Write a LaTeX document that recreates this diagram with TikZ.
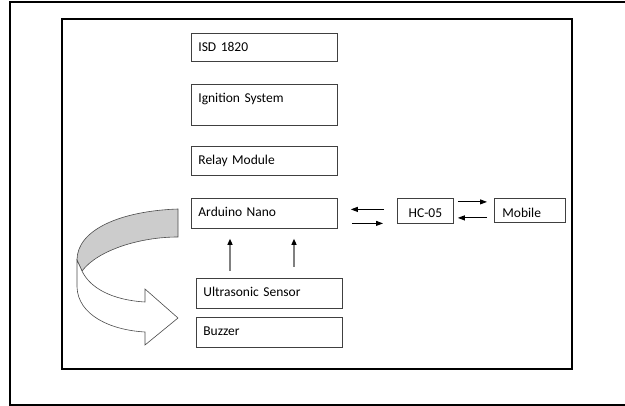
\documentclass[tikz,border=0pt]{standalone}
\usepackage{fontspec}
\setmainfont{Carlito}
\usetikzlibrary{arrows.meta}

\begin{document}
\begin{tikzpicture}[x=1pt,y=-1pt,
    blk/.style={draw=black!75,line width=0.8pt,anchor=north west,inner xsep=7pt,inner ysep=0pt,
      text width=132pt,text height=18pt,align=left,font=\fontsize{13.5}{16}\selectfont},
    harr/.style={line width=0.9pt,shorten <=13pt,shorten >=13pt,-{Triangle[length=7pt,width=5pt]}},
    uparr/.style={draw=black!50,line width=1.2pt,-{Triangle[length=6pt,width=5pt,black]}}]
  \clip (0,0) rectangle (625,406);

  % Frames
  \draw[line width=1.5pt] (10,2) rectangle (640,405);
  \draw[line width=2.6pt] (62,19) rectangle (572,369);

  % Blocks
  \node[blk,text depth=10pt] (isd) at (191,33) {ISD 1820};
  \node[blk,text depth=23pt] (ign) at (191,84) {Ignition System};
  \node[blk,text depth=11pt] (relay) at (191,146) {Relay Module};
  \node[blk,text depth=12pt] (ard) at (191,198) {Arduino Nano};
  \node[blk,text depth=12pt] (ultra) at (196,278) {Ultrasonic Sensor};
  \node[blk,text depth=12pt] (buzz) at (196,317) {Buzzer};
  \node[blk,text depth=6pt,text height=19pt,text width=42pt,align=center] (hc) at (397,198) {HC-05};
  \node[blk,text depth=5pt,text height=19pt,text width=55pt,inner xsep=8pt] (mob) at (494,198) {Mobile};

  % Arduino <-> HC-05
  \coordinate (t1) at ([yshift=4pt]ard.east);
  \coordinate (t2) at ([yshift=-10pt]ard.east);
  \draw[harr] (t1 -| hc.west) -- (t1);
  \draw[harr,shorten <=14pt,shorten >=14pt] (t2) -- (t2 -| hc.west);

  % HC-05 <-> Mobile
  \coordinate (m1) at ([yshift=9pt]hc.east);
  \coordinate (m2) at ([yshift=-7pt]hc.east);
  \draw[harr,shorten <=4pt,shorten >=7pt] (m1) -- (m1 -| mob.west);
  \draw[harr,shorten <=7pt,shorten >=4pt] (m2 -| mob.west) -- (m2);

  % Sensor to Arduino
  \coordinate (u1) at ([xshift=34pt,yshift=7pt]ultra.north west);
  \coordinate (u2) at ([xshift=98pt,yshift=11pt]ultra.north west);
  \draw[uparr,shorten >=10pt] (u1) -- (u1 |- ard.south);
  \draw[uparr,shorten >=10pt] (u2) -- (u2 |- ard.south);

  % Curved arrow
  \draw[draw=black!70,line width=0.6pt,fill=black!20]
    (178,209) .. controls (120,211) and (77,230) .. (77,260)
    -- (82,271) .. controls (98,250) and (140,237) .. (178,237) -- cycle;
  \draw[draw=black!70,line width=0.6pt,fill=white]
    (77,260) -- (77,287) .. controls (78,315) and (110,330) .. (145,332)
    -- (145,345) -- (178,318) -- (145,289) -- (145,302)
    .. controls (112,300) and (90,288) .. (82,271) -- cycle;
\end{tikzpicture}
\end{document}
